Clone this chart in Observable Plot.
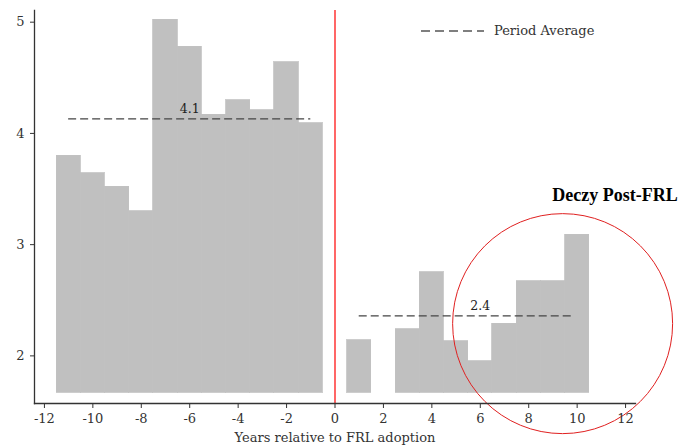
<!DOCTYPE html>
<html>
<head>
<meta charset="utf-8">
<script src="https://cdn.jsdelivr.net/npm/d3@7"></script>
<script src="https://cdn.jsdelivr.net/npm/@observablehq/plot@0.6"></script>
<style>
  html, body { margin: 0; padding: 0; background: #fff; }
  #wrap { position: relative; width: 699px; height: 448px; overflow: hidden; }
  #legend { position: absolute; left: 421px; top: 23px; display: flex; align-items: center;
            font-family: "DejaVu Serif", serif; font-size: 13px; color: #333; }
  #legend svg { margin-right: 10px; }
</style>
</head>
<body>
<div id="wrap">
  <div id="chart"></div>
  <div id="legend"></div>
</div>
<script>
// ---- data ----
const years  = [-11, -10, -9, -8, -7, -6, -5, -4, -3, -2, -1, 1, 3, 4, 5, 6, 7, 8, 9, 10];
const values = [3.80, 3.64, 3.52, 3.30, 5.02, 4.78, 4.17, 4.30, 4.21, 4.64, 4.09,
                2.14, 2.24, 2.75, 2.13, 1.95, 2.29, 2.67, 2.67, 3.09];
const baseline = 1.668;

const periodStart = [-11, 1];
const periodEnd   = [-1, 9.8];
const periodAvg   = [4.13, 2.36];
const periodLabel = ["4.1", "2.4"];

const xTicks = [-12, -10, -8, -6, -4, -2, 0, 2, 4, 6, 8, 10, 12];
const yTicks = [2, 3, 4, 5];

const highlightX = [9.4];
const highlightY = [2.29];
const noteX = [11.56];
const noteY = [3.44];
const noteText = ["Deczy Post-FRL"];

const xLabel = "Years relative to FRL adoption";
const legendLabel = "Period Average";

// ---- tables ----
const bars = years.map((y, i) => ({year: y, value: values[i]}));
const periods = periodAvg.map((a, i) => ({start: periodStart[i], end: periodEnd[i], avg: a, label: periodLabel[i]}));
const highlight = highlightX.map((x, i) => ({x, y: highlightY[i]}));
const notes = noteText.map((t, i) => ({x: noteX[i], y: noteY[i], t}));

const serif = "DejaVu Serif";

const chart = Plot.plot({
  width: 699,
  height: 448,
  marginLeft: 34,
  marginRight: 64,
  marginTop: 10,
  marginBottom: 45,
  style: {fontFamily: serif, fontSize: "13px", color: "#333", background: "#fff", overflow: "visible"},
  x: {domain: [-12.41, 12.41], label: null},
  y: {domain: [1.572, 5.105], label: null},
  marks: [
    Plot.rectY(bars, {x1: d => d.year - 0.5, x2: d => d.year + 0.5, y1: baseline, y2: "value", fill: "#c0c0c0", stroke: "#c0c0c0", strokeWidth: 0.8, shapeRendering: "crispEdges"}),
    Plot.ruleX([0], {stroke: "#ff0000", strokeWidth: 1.2}),
    Plot.ruleY(periods, {x1: "start", x2: "end", y: "avg", stroke: "#444", strokeWidth: 1.3, strokeDasharray: "8,4"}),
    Plot.text(periods, {x: d => (d.start + d.end) / 2 + (d.start < 0 ? 0 : 0.6), y: "avg", text: "label", dy: -10, fill: "#222", fontSize: 12.5, fontFamily: serif}),
    Plot.dot(highlight, {x: "x", y: "y", r: 110, fill: "none", stroke: "#e02020", strokeWidth: 1}),
    Plot.text(notes, {x: "x", y: "y", text: "t", fontFamily: "Liberation Serif", fontWeight: "bold", fontSize: 18, fill: "#000", letterSpacing: "-0.3px"}),
    Plot.axisX({ticks: xTicks, tickSize: 5, tickPadding: 5, label: null, stroke: "#333", fontFamily: serif, fontSize: 13, tickFormat: d => String(d)}),
    Plot.axisY({ticks: yTicks, tickSize: 4, tickPadding: 6, label: null, stroke: "#333", fontFamily: serif, fontSize: 13, tickFormat: d => String(d)}),
    Plot.text([xLabel], {frameAnchor: "bottom", dy: 38, fill: "#333", fontSize: 13, fontFamily: serif}),
    Plot.frame({anchor: "left", stroke: "#333", strokeWidth: 1.3}),
    Plot.frame({anchor: "bottom", stroke: "#333", strokeWidth: 1.3})
  ]
});
document.getElementById("chart").appendChild(chart);

// legend
const lg = document.getElementById("legend");
lg.innerHTML = `<svg width="63" height="6"><line x1="0" x2="63" y1="3" y2="3" stroke="#555" stroke-width="1.3" stroke-dasharray="9,5"/></svg><span>${legendLabel}</span>`;
</script>
</body>
</html>
